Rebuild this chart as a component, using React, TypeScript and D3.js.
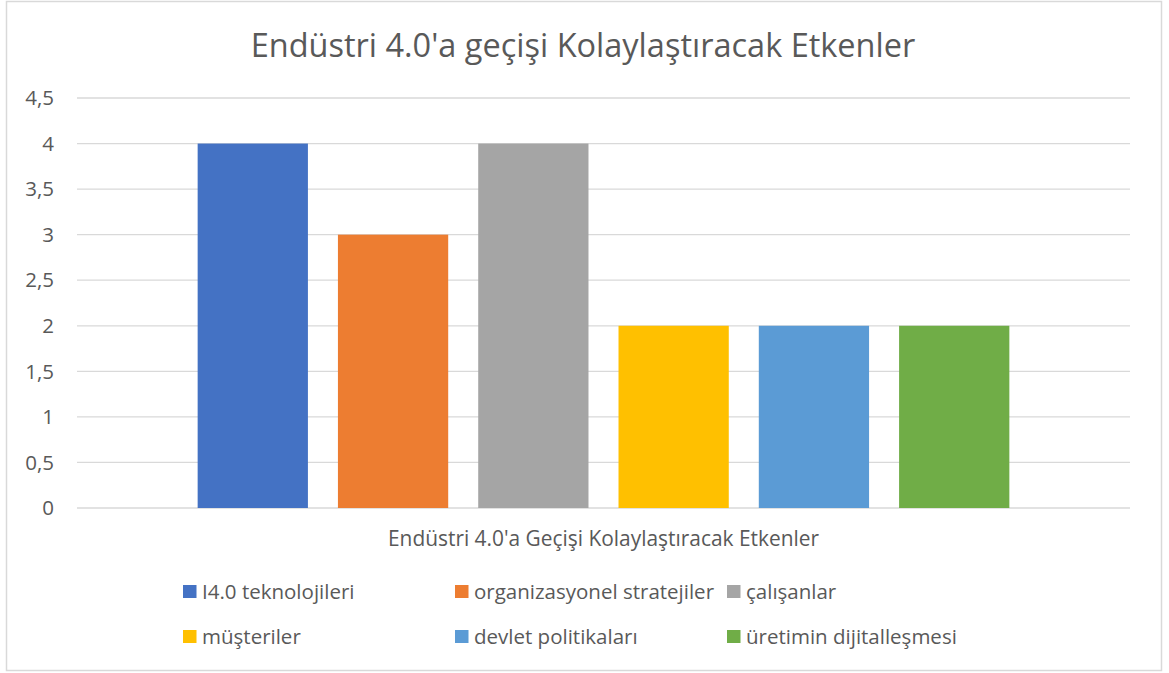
import React from "react";
import * as d3 from "d3";

const categories = ["Endüstri 4.0'a Geçişi Kolaylaştıracak Etkenler"];
const seriesNames = [
  "I4.0 teknolojileri",
  "organizasyonel stratejiler",
  "çalışanlar",
  "müşteriler",
  "devlet politikaları",
  "üretimin dijitalleşmesi",
];
const seriesValues = [4, 3, 4, 2, 2, 2];
const seriesColors = ["#4472C4", "#ED7D31", "#A5A5A5", "#FFC000", "#5B9BD5", "#70AD47"];
const yTicks = [0, 0.5, 1, 1.5, 2, 2.5, 3, 3.5, 4, 4.5];
const title = "Endüstri 4.0'a geçişi Kolaylaştıracak Etkenler";

const W = 1169;
const H = 673;
const FONT = "'Open Sans', 'Noto Sans', sans-serif";
const TXT = "#595959";
const FS = 20.5;

export default function App() {
  const plotL = 77, plotR = 1130, plotT = 98, plotB = 508;
  const y = d3.scaleLinear().domain([0, 4.5]).range([plotB, plotT]);
  const x0 = d3.scaleBand().domain(categories).range([plotL, plotR]);
  const x1 = d3
    .scaleBand()
    .domain(seriesNames)
    .range([0, x0.bandwidth()])
    .paddingInner(0.214)
    .paddingOuter(0.86);
  const fmt = (v: number) => String(v).replace(".", ",");

  const legendCols = [183, 455, 727];
  const legendRows = [591.5, 636.5];

  return (
    <svg
      width={W}
      height={H}
      style={{ position: "absolute", left: 0, top: 0, background: "#fff" }}
      fontFamily={FONT}
    >
      <rect x={6.5} y={1.5} width={1155} height={669} fill="#fff" stroke="#d9d9d9" strokeWidth={1.5} />
      <text x={583} y={46} dy="0.35em" textAnchor="middle" fontSize={32.5} fill={TXT}>
        {title}
      </text>
      {yTicks.map((t) => (
        <g key={t}>
          <line x1={plotL} x2={plotR} y1={y(t)} y2={y(t)} stroke="#d9d9d9" strokeWidth={1.3} />
          <text x={54} y={y(t)} dy="0.35em" textAnchor="end" fontSize={FS} fill={TXT}>
            {fmt(t)}
          </text>
        </g>
      ))}
      {categories.map((c) => (
        <g key={c} transform={`translate(${x0(c)},0)`}>
          {seriesNames.map((s, i) => (
            <rect
              key={s}
              x={x1(s)}
              y={y(seriesValues[i])}
              width={x1.bandwidth()}
              height={y(0) - y(seriesValues[i])}
              fill={seriesColors[i]}
            />
          ))}
          <text
            x={x0.bandwidth() / 2}
            y={539}
            dy="0.35em"
            textAnchor="middle"
            fontSize={20.9}
            fill={TXT}
          >
            {c}
          </text>
        </g>
      ))}
      {seriesNames.map((s, i) => {
        const cx = legendCols[i % 3];
        const cy = legendRows[Math.floor(i / 3)];
        return (
          <g key={s}>
            <rect x={cx} y={cy - 6.5} width={13.5} height={13} fill={seriesColors[i]} />
            <text x={cx + 19} y={cy} dy="0.35em" fontSize={FS} fill={TXT}>
              {s}
            </text>
          </g>
        );
      })}
    </svg>
  );
}
